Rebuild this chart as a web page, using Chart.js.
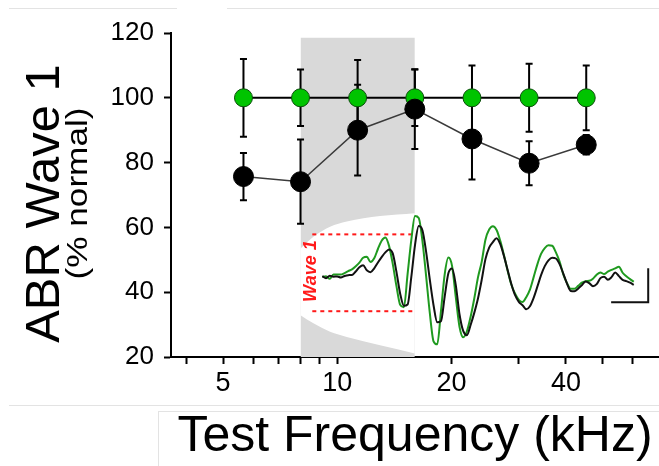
<!DOCTYPE html>
<html><head><meta charset="utf-8">
<script src="https://cdn.jsdelivr.net/npm/chart.js@4.4.0/dist/chart.umd.min.js"></script>
<style>
html,body{margin:0;padding:0;background:#fff;}
#wrap{position:relative;width:659px;height:466px;overflow:hidden;background:#fff;}
.fl{position:absolute;background:#e3e3e3;}
canvas{position:absolute;left:0;top:0;}
</style></head><body>
<div id="wrap">
<div class="fl" style="left:9px;top:8px;width:168px;height:1px"></div>
<div class="fl" style="left:227px;top:8px;width:432px;height:1px"></div>
<div class="fl" style="left:9px;top:405px;width:650px;height:1px"></div>
<div class="fl" style="left:158px;top:411px;width:501px;height:1px"></div>
<div class="fl" style="left:158px;top:411px;width:1px;height:55px"></div>
<canvas id="c" width="659" height="466"></canvas>
</div>
<script>
// ---- main chart data ----
const freqs = [5.66, 8, 11.31, 16, 22.63, 32, 45.25];          // kHz
const normalMean = [100, 100, 100, 100, 100, 100, 100];          // % normal (green)
const normalErr  = [12, 8.7, 11.7, 8.7, 10, 10.5, 10];
const exposedMean = [75.7, 74.1, 90, 96.5, 87.3, 79.8, 85.5];    // black
const exposedErr  = [7.3, 13, 14, 12.3, 12.5, 6.8, 3];
const yTicks = [20, 40, 60, 80, 100, 120];
const xTickValues = [4, 5, 6, 7, 8, 9, 10, 20, 30, 40, 50, 60];
const xTickLabels = [5, 10, 20, 40];
const bandFreqs = [8, 16];
const bandTop = 118.5;
const insetTopFreq = [8, 8.65, 9.57, 10.59, 12.96, 16];
const insetTopY    = [53.5, 57.1, 60.2, 61.8, 63.5, 64.4];
const insetBotFreq = [8, 8.65, 9.57, 10.59, 12.96, 16];
const insetBotY    = [32.9, 30.4, 27.8, 26.2, 23.6, 21.1];

// ---- inset waveform (time in ms, amplitude in a.u.) ----
const waveTimeMs = [0,0.1,0.2,0.3,0.4,0.5,0.6,0.7,0.8,0.9,1.0,1.1,1.2,1.3,1.4,1.5,1.6,1.7,1.8,1.9,
 2.0,2.1,2.2,2.3,2.4,2.5,2.6,2.7,2.8,2.9,3.0,3.1,3.2,3.3,3.4,3.5,3.6,3.7,3.8,3.9,
 4.0,4.1,4.2,4.3,4.4,4.5,4.6,4.7,4.8,4.9,5.0,5.1,5.2,5.3,5.4,5.5,5.6,5.7,5.8,5.9,
 6.0,6.1,6.2,6.3,6.4,6.5,6.6,6.7,6.8,6.9,7.0,7.1,7.2,7.3,7.4,7.5,7.6,7.7,7.8,7.9,
 8.0,8.1,8.2,8.3,8.4];
const waveNormal = [-2,-1.1,-3.6,0.6,0.6,0.6,2.1,4,5.8,8.9,
 12.5,17.3,18.4,13.1,16.8,26.1,34.4,37.6,29.2,11.2,
 -11,-29.6,-32,1,35,59,57,34.3,-1,-38,
 -66,-69,-36,0.5,17.5,9,-22,-51.5,-62,-56,
 -41.5,-23,-2,13.5,35.4,45.5,48.8,45.1,34.2,19.8,
 4.2,-9.6,-18.6,-24.6,-26.9,-22,-14.5,-2,10.8,21.2,
 27,29.8,29.3,22.7,13.5,0.8,-8,-13.6,-13.7,-10.7,
 -7.5,-6,-5.6,-3.6,0.4,2.7,1.1,3.4,5.3,6.7,
 8.5,2.4,-1.2,-4,-6.6];
const waveExposed = [-1,-3,-0.5,-1.5,-1.3,-2.3,-0.8,0,0.2,3.6,
 8,10,4.8,3,6.8,12.6,18,22.7,25.7,21.7,
 3.3,-18.5,-30.6,-29.3,-2,30,49,44.8,23.3,-4.6,
 -30,-47,-46,-21.6,1.8,6.7,-10,-39,-55.7,-60,
 -49.7,-37.4,-23,-4.5,16,27.5,33,36.9,31,19,
 5,-9,-20,-26.6,-30,-34,-31,-22.7,-11.5,0,
 9,14.7,17.4,16.6,11,1.6,-8.5,-15.8,-16,-13.5,
 -10,-6.3,-8,-11,-9,-3,-1.5,-4.5,-2,2.7,
 -1,-4.7,-6,-7.5,-9.6];
const wave1Span = [-0.27, 2.49];     // ms, dotted markers
const wave1Peak = 40.7, wave1Trough = -36;
const wave1Label = {t: -0.3, a: 4};
const scaleBarT = [8.79, 8.79, 7.79];
const scaleBarA = [7, -27, -27];

const FONT = '"Liberation Sans", Arial, Helvetica, sans-serif';
const pts = (xs, ys) => xs.map((x, i) => ({x: x, y: ys[i]}));

const errorBars = {
  id: 'errorBars',
  beforeDatasetDraw(chart, args) {
    if (chart.data.datasets[args.index].label !== 'Normal') return;
    const ctx = chart.ctx, xs = chart.scales.x, ys = chart.scales.y;
    ctx.save();
    ctx.strokeStyle = '#000'; ctx.lineWidth = 2;
    const draw = (means, errs) => {
      freqs.forEach((f, i) => {
        const px = xs.getPixelForValue(f);
        const t = ys.getPixelForValue(means[i] + errs[i]);
        const b = ys.getPixelForValue(means[i] - errs[i]);
        ctx.beginPath();
        ctx.moveTo(px, t); ctx.lineTo(px, b);
        ctx.moveTo(px - 3.5, t); ctx.lineTo(px + 3.5, t);
        ctx.moveTo(px - 3.5, b); ctx.lineTo(px + 3.5, b);
        ctx.stroke();
      });
    };
    draw(normalMean, normalErr);
    draw(exposedMean, exposedErr);
    ctx.restore();
  }
};

const texts = {
  id: 'texts',
  afterDatasetsDraw(chart) {
    const ctx = chart.ctx, xw = chart.scales.xw, yw = chart.scales.yw;
    ctx.save();
    ctx.translate(xw.getPixelForValue(wave1Label.t), yw.getPixelForValue(wave1Label.a));
    ctx.rotate(-Math.PI / 2);
    ctx.font = 'italic bold 18px ' + FONT;
    ctx.fillStyle = '#ff1a1a';
    ctx.textAlign = 'center'; ctx.textBaseline = 'middle';
    ctx.fillText('Wave 1', 0, 0);
    ctx.restore();
  },
  afterDraw(chart) {
    const ctx = chart.ctx;
    ctx.save();
    ctx.fillStyle = '#000';
    ctx.textAlign = 'center'; ctx.textBaseline = 'alphabetic';
    ctx.save();
    ctx.translate(59, 203.5); ctx.rotate(-Math.PI / 2);
    ctx.font = '49px ' + FONT;
    ctx.fillText('ABR Wave 1', 0, 0);
    ctx.restore();
    ctx.save();
    ctx.translate(87, 193.5); ctx.rotate(-Math.PI / 2);
    ctx.font = '30px ' + FONT;
    const w = ctx.measureText('(% normal)').width;
    ctx.scale(172 / w, 1);
    ctx.fillText('(% normal)', 0, 0);
    ctx.restore();
    ctx.restore();
  }
};

new Chart(document.getElementById('c'), {
  type: 'line',
  data: {
    datasets: [
      {label: 'band', data: pts(bandFreqs, [bandTop, bandTop]), xAxisID: 'x', yAxisID: 'y',
       fill: {value: 20}, backgroundColor: '#d9d9d9', borderWidth: 0, pointRadius: 0, order: 10},
      {label: 'insetTop', data: pts(insetTopFreq, insetTopY), xAxisID: 'x', yAxisID: 'y',
       fill: '+1', backgroundColor: '#ffffff', borderWidth: 0, pointRadius: 0,
       cubicInterpolationMode: 'monotone', order: 9},
      {label: 'insetBottom', data: pts(insetBotFreq, insetBotY), xAxisID: 'x', yAxisID: 'y',
       fill: false, borderWidth: 0, borderColor: 'rgba(0,0,0,0)', pointRadius: 0,
       cubicInterpolationMode: 'monotone', order: 9},
      {label: 'w1top', data: pts(wave1Span, [wave1Peak, wave1Peak]), xAxisID: 'xw', yAxisID: 'yw',
       borderColor: '#ff1a1a', borderWidth: 2, borderDash: [4, 4], pointRadius: 0, fill: false, order: 8},
      {label: 'w1bot', data: pts(wave1Span, [wave1Trough, wave1Trough]), xAxisID: 'xw', yAxisID: 'yw',
       borderColor: '#ff1a1a', borderWidth: 2, borderDash: [4, 4], pointRadius: 0, fill: false, order: 8},
      {label: 'traceNormal', data: pts(waveTimeMs, waveNormal), xAxisID: 'xw', yAxisID: 'yw',
       borderColor: '#1f9a1f', borderWidth: 2, pointRadius: 0, fill: false,
       cubicInterpolationMode: 'monotone', order: 7},
      {label: 'traceExposed', data: pts(waveTimeMs, waveExposed), xAxisID: 'xw', yAxisID: 'yw',
       borderColor: '#111111', borderWidth: 2, pointRadius: 0, fill: false,
       cubicInterpolationMode: 'monotone', order: 6},
      {label: 'scaleBar', data: pts(scaleBarT, scaleBarA), xAxisID: 'xw', yAxisID: 'yw',
       borderColor: '#111111', borderWidth: 2, pointRadius: 0, fill: false, order: 6},
      {label: 'Normal', data: pts(freqs, normalMean), xAxisID: 'x', yAxisID: 'y',
       borderColor: '#000', borderWidth: 2, pointRadius: 9, pointBackgroundColor: '#00c400',
       pointBorderColor: '#0b4d0b', pointBorderWidth: 1, fill: false, order: 2},
      {label: 'Exposed', data: pts(freqs, exposedMean), xAxisID: 'x', yAxisID: 'y',
       borderColor: '#3a3a3a', borderWidth: 1.5, pointRadius: 10, pointBackgroundColor: '#000',
       pointBorderColor: '#000', pointBorderWidth: 1, fill: false, order: 1}
    ]
  },
  options: {
    responsive: false, animation: false, devicePixelRatio: 1,
    layout: {autoPadding: false, padding: {top: 33, right: 0, bottom: 0, left: 0}},
    plugins: {legend: {display: false}, tooltip: {enabled: false}},
    scales: {
      x: {type: 'logarithmic', position: 'bottom', min: 3.647, max: 70.35,
        afterBuildTicks: s => { s.ticks = xTickValues.map(v => ({value: v})); },
        afterFit: s => { s.height = 109; s.paddingLeft = 0; s.paddingRight = 0; },
        ticks: {autoSkip: false, maxRotation: 0, minRotation: 0, color: '#000', padding: 3,
          font: {family: FONT, size: 27},
          callback: v => xTickLabels.includes(v) ? String(v) : ''},
        grid: {drawOnChartArea: false, drawTicks: true, tickLength: 7, tickColor: '#000', tickWidth: 2},
        border: {display: true, color: '#000', width: 2},
        title: {display: true, text: 'Test Frequency (kHz)', color: '#000',
          font: {family: FONT, size: 50, lineHeight: 1.15}, padding: {top: 0, bottom: 0}}
      },
      y: {type: 'linear', position: 'left', min: 20, max: 120,
        afterBuildTicks: s => { s.ticks = yTicks.map(v => ({value: v})); },
        afterFit: s => { s.width = 171; },
        ticks: {color: '#000', padding: 10, font: {family: FONT, size: 26}},
        grid: {drawOnChartArea: false, drawTicks: true, tickLength: 7, tickColor: '#000', tickWidth: 2},
        border: {display: true, color: '#000', width: 2}
      },
      xw: {type: 'linear', display: false, min: -4.081, max: 9.081},
      yw: {type: 'linear', display: false, min: -81.7, max: 241.7}
    }
  },
  plugins: [errorBars, texts]
});
</script>
</body></html>
